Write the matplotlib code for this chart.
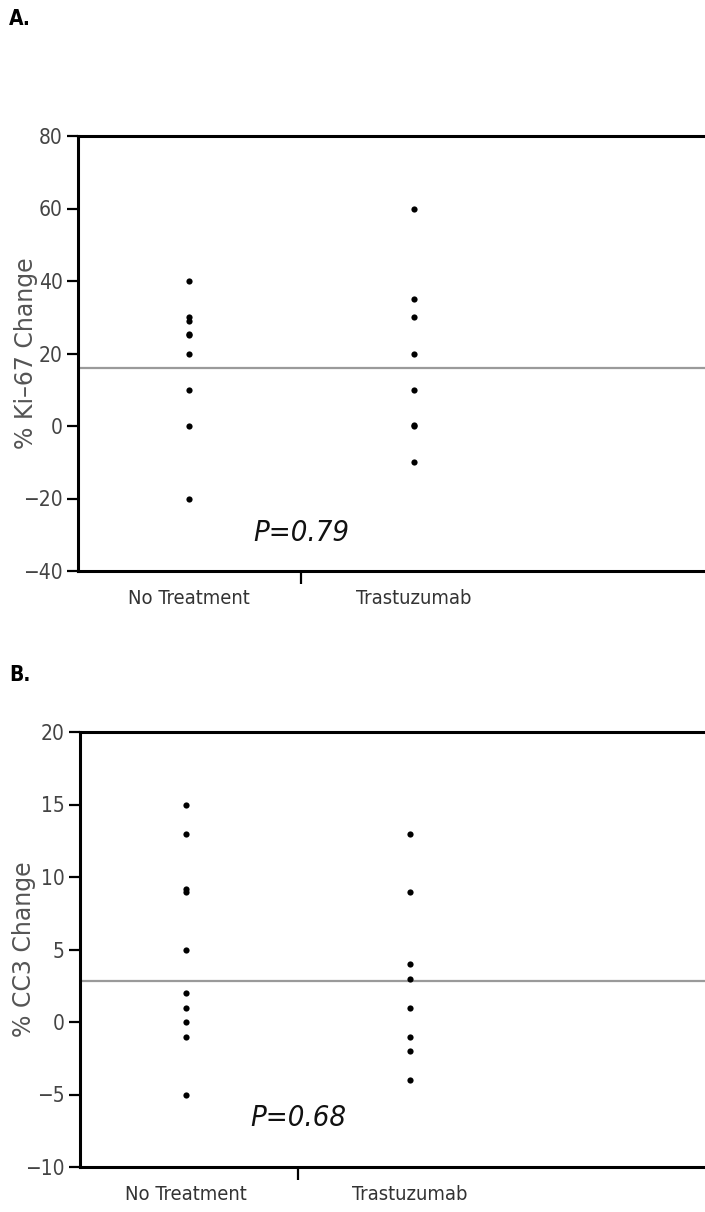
import matplotlib
matplotlib.use("Agg")
import matplotlib.pyplot as plt

plt.rcParams['font.family'] = ['DejaVu Sans']
plt.rcParams['font.stretch'] = 'condensed'

groups = ["No Treatment", "Trastuzumab"]

# panel A: % Ki-67 change
ki67_none = [40, 30, 29, 25, 25.5, 20, 10, 0, -20]
ki67_tras = [60, 35, 30, 20, 10, 0, 0.4, -10]
ki67_mean = 16
ki67_p = "P=0.79"

# panel B: % CC3 change
cc3_none = [15, 13, 9, 9.2, 5, 2, 1, 0, -1, -5]
cc3_tras = [13, 9, 4, 3, 1, -1, -2, -4]
cc3_mean = 2.8
cc3_p = "P=0.68"


def draw_panel(ax, none_vals, tras_vals, mean_val, ylim, yticks, ylabel, ptext, ptext_y, xlim, label_x):
    ax.scatter([0] * len(none_vals), none_vals, s=20, color="black", zorder=3, linewidths=0)
    ax.scatter([1] * len(tras_vals), tras_vals, s=20, color="black", zorder=3, linewidths=0)
    ax.axhline(mean_val, color="#9a9a9a", lw=1.6, zorder=2)

    ax.set_xlim(*xlim)
    ax.set_ylim(*ylim)
    ax.set_yticks(yticks)
    ax.set_xticks([0, 1])
    ax.set_xticklabels(groups, fontsize=14.5, color="#333333")
    ax.set_xticks([0.5], minor=True)
    ax.tick_params(axis="x", which="major", length=0, pad=13)
    ax.tick_params(axis="x", which="minor", length=9, width=1.6, direction="out", color="black")
    ax.tick_params(axis="y", length=8, width=1.6, direction="out", labelsize=15,
                   labelcolor="#444444", pad=3)

    for side in ["left", "bottom", "top"]:
        ax.spines[side].set_linewidth(2.2)
        ax.spines[side].set_color("black")
    ax.spines["right"].set_visible(False)

    ax.set_ylabel(ylabel, fontsize=17, color="#555555", fontstretch="normal")
    ax.yaxis.set_label_coords(label_x, 0.5)

    ax.text(0.5, ptext_y, ptext, fontsize=21, style="italic", ha="center", va="center", color="#111111")


fig = plt.figure(figsize=(7.05, 12.12), dpi=100)

ax_a = fig.add_axes([78 / 705, 1 - 571 / 1212, 627 / 705, 435 / 1212])
draw_panel(ax_a, ki67_none, ki67_tras, ki67_mean, (-40, 80), [-40, -20, 0, 20, 40, 60, 80],
           "% Ki\u201367 Change", ki67_p, -29.4, (-0.493, 2.296), -0.063)

ax_b = fig.add_axes([80 / 705, 1 - 1167 / 1212, 625 / 705, 435 / 1212])
draw_panel(ax_b, cc3_none, cc3_tras, cc3_mean, (-10, 20), [-10, -5, 0, 5, 10, 15, 20],
           "% CC3 Change", cc3_p, -6.6, (-0.474, 2.32), -0.07)

fig.text(9 / 705, 1 - 19 / 1212, "A.", fontsize=15, fontweight="bold", va="center", ha="left")
fig.text(9 / 705, 1 - 675 / 1212, "B.", fontsize=15, fontweight="bold", va="center", ha="left")

fig.savefig("out.png", dpi=100)
